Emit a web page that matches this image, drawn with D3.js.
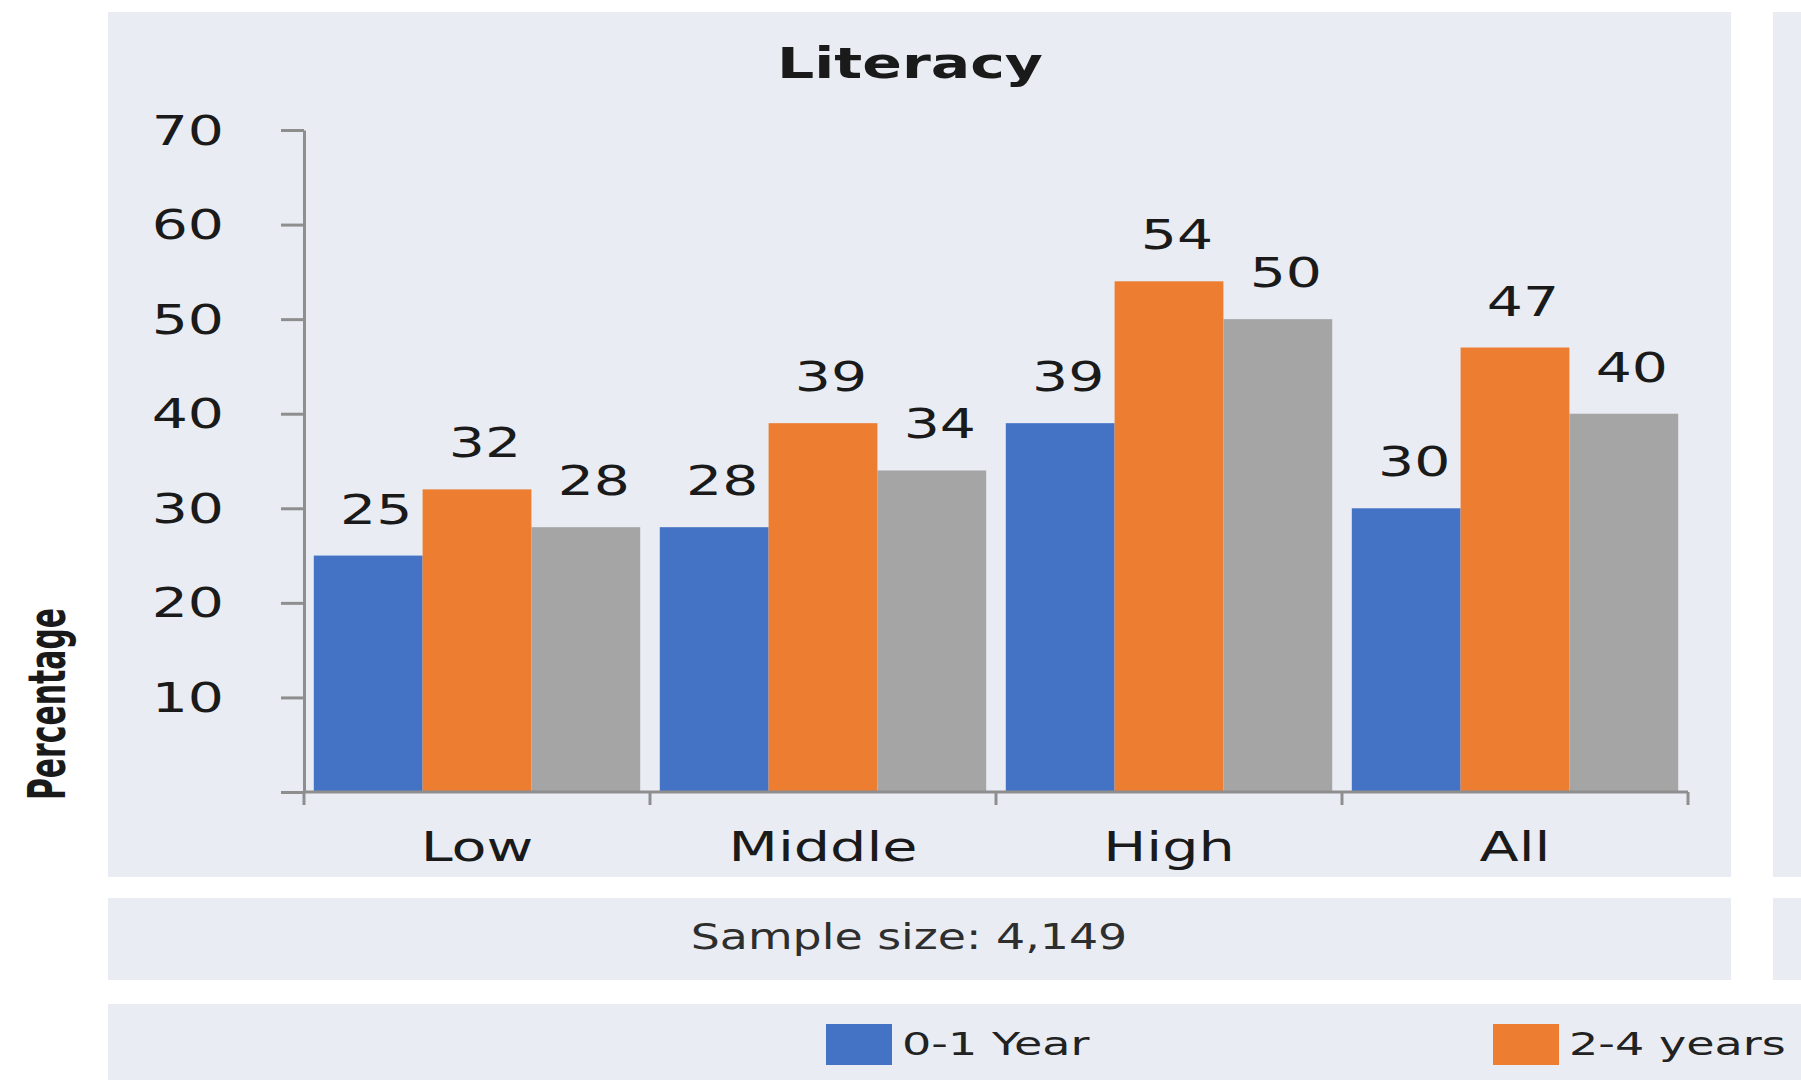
<!DOCTYPE html>
<html>
<head>
<meta charset="utf-8">
<script src="https://cdn.jsdelivr.net/npm/d3@7"></script>
<style>
  html, body { margin: 0; padding: 0; background: #ffffff; overflow: hidden; }
  svg { display: block; }
</style>
</head>
<body>
<svg id="chart" width="1801" height="1080"></svg>
<script>
// ---- data ----
const categories = ["Low", "Middle", "High", "All"];
const seriesNames = ["0-1 Year", "2-4 years", "5+ years"];
const legendShown = ["0-1 Year", "2-4 years"];
const values01 = [25, 28, 39, 30];
const values24 = [32, 39, 54, 47];
const values5p = [28, 34, 50, 40];
const yTickValues = [0, 10, 20, 30, 40, 50, 60, 70];
const chartTitle = "Literacy";
const axisTitle = "Percentage";
const sampleNote = "Sample size: 4,149";

// ---- styling ----
const seriesColors = ["#4472c4", "#ed7d31", "#a5a5a5"];
const panelFill = "#e9edf3";
const axisColor = "#8e8e8e";
const textColor = "#1a1a1a";
const FONT = "'DejaVu Sans', Verdana, sans-serif";

const seriesValues = [values01, values24, values5p];
const rows = categories.map((c, i) => ({
  category: c,
  items: seriesNames.map((s, j) => ({ series: s, value: seriesValues[j][i] }))
}));

const svg = d3.select("#chart");

// text that is widened horizontally (glyphs drawn wide, as in the printed figure)
function wideText(parent, str, x, y, k, opts = {}) {
  const t = parent.append("text")
    .attr("transform", `translate(${x},${y}) scale(${k},1)` + (opts.rotate ? ` rotate(${opts.rotate})` : ""))
    .attr("font-family", opts.family || FONT)
    .attr("font-size", opts.size || 40)
    .attr("font-weight", opts.weight || "normal")
    .attr("text-anchor", opts.anchor || "start")
    .attr("fill", opts.fill || textColor)
    .text(str);
  if (opts.length) t.attr("textLength", opts.length).attr("lengthAdjust", "spacingAndGlyphs");
  return t;
}

// ---- background panels ----
const panels = [
  { x: 108, y: 12, w: 1623, h: 865 },
  { x: 1773, y: 12, w: 60, h: 865 },
  { x: 108, y: 898, w: 1623, h: 82 },
  { x: 1773, y: 898, w: 60, h: 82 },
  { x: 108, y: 1004, w: 1720, h: 80 }
];
svg.append("g").selectAll("rect").data(panels).join("rect")
  .attr("x", d => d.x).attr("y", d => d.y)
  .attr("width", d => d.w).attr("height", d => d.h)
  .attr("fill", panelFill);

// ---- scales ----
const plotLeft = 304, plotRight = 1688, plotTop = 130, plotBottom = 792;
const x0 = d3.scaleBand().domain(categories).range([plotLeft, plotRight]).padding(0);
const x1 = d3.scaleBand().domain(seriesNames).range([0, x0.bandwidth()])
  .paddingInner(0).paddingOuter(0.09);
const y = d3.scaleLinear().domain([0, 70]).range([plotBottom, plotTop]);
const color = d3.scaleOrdinal().domain(seriesNames).range(seriesColors);

// ---- bars ----
const groups = svg.append("g").selectAll("g").data(rows).join("g")
  .attr("transform", d => `translate(${x0(d.category)},0)`);

groups.selectAll("rect").data(d => d.items).join("rect")
  .attr("x", d => x1(d.series))
  .attr("y", d => y(d.value))
  .attr("width", x1.bandwidth())
  .attr("height", d => y(0) - y(d.value))
  .attr("fill", d => color(d.series));

// value labels
groups.each(function (d) {
  const g = d3.select(this);
  d.items.forEach(it => {
    wideText(g, it.value, x1(it.series) + x1.bandwidth() / 2 + 8, y(it.value) - 32, 1.42,
      { anchor: "middle", size: 40 });
  });
});

// ---- y axis ----
const yAxis = svg.append("g")
  .attr("transform", `translate(${plotLeft},0)`)
  .call(d3.axisLeft(y).tickValues(yTickValues).tickSize(23).tickSizeOuter(0).tickFormat(""));
yAxis.select(".domain").attr("stroke", axisColor).attr("stroke-width", 3);
yAxis.selectAll(".tick line").attr("stroke", axisColor).attr("stroke-width", 3);
yAxis.selectAll(".tick").each(function (d) {
  if (d === 0) return;
  wideText(d3.select(this), d, -80, 14, 1.42, { anchor: "end", size: 40 });
});

// ---- x axis ----
const xAxis = svg.append("g");
xAxis.append("line")
  .attr("x1", plotLeft).attr("x2", plotRight)
  .attr("y1", y(0)).attr("y2", y(0))
  .attr("stroke", axisColor).attr("stroke-width", 3);
const boundaries = categories.map(c => x0(c)).concat([x0.range()[1]]);
xAxis.selectAll("line.bound").data(boundaries).join("line")
  .attr("class", "bound")
  .attr("x1", d => d).attr("x2", d => d)
  .attr("y1", y(0)).attr("y2", y(0) + 13)
  .attr("stroke", axisColor).attr("stroke-width", 3);
categories.forEach(c => {
  wideText(xAxis, c, x0(c) + x0.bandwidth() / 2, 861, 1.43, { anchor: "middle", size: 40 });
});

// ---- titles ----
wideText(svg, chartTitle, 910, 78, 1.36, { anchor: "middle", size: 43, weight: "bold" });
wideText(svg, axisTitle, 65, 704, 1.2, {
  anchor: "middle", size: 43, weight: "bold", rotate: -90,
  family: "'Liberation Sans Narrow', 'DejaVu Sans Condensed', 'Liberation Sans', sans-serif",
  length: 192
});

// ---- sample size note ----
wideText(svg, sampleNote, 909, 949, 1.31, { anchor: "middle", size: 35, fill: "#2e2e2e" });

// ---- legend ----
const legend = svg.append("g").selectAll("g").data(legendShown).join("g")
  .attr("transform", (d, i) => `translate(${826 + i * 667},1024)`);
legend.append("rect")
  .attr("width", 66).attr("height", 41)
  .attr("fill", d => color(d));
legend.each(function (d) {
  wideText(d3.select(this), d, 76, 31, 1.44, { size: 32, fill: "#222" });
});
</script>
</body>
</html>
